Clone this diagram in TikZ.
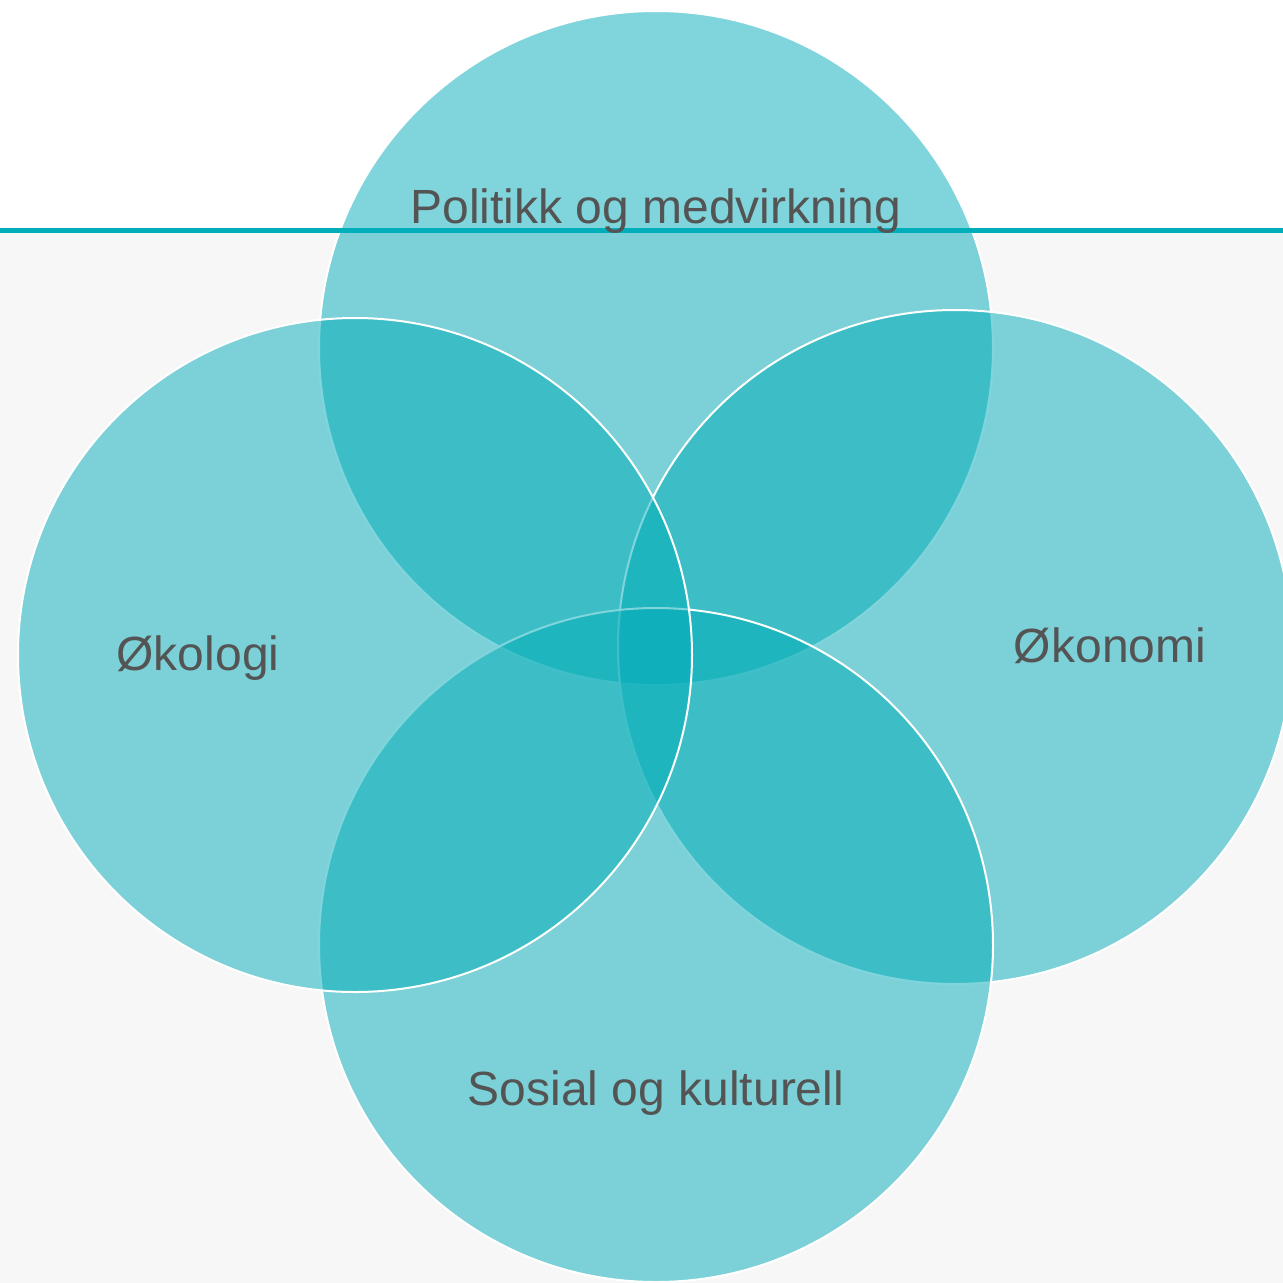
\documentclass[tikz,border=0pt]{standalone}
\usepackage{fontspec}
\setmainfont{Liberation Sans}
\definecolor{teal}{HTML}{01ADB9}
\definecolor{bandline}{HTML}{00AEBA}
\definecolor{bggray}{HTML}{F7F7F7}
\definecolor{txt}{HTML}{545454}
\begin{document}
\begin{tikzpicture}[x=1pt,y=-1pt,
  ring/.style={fill=teal,fill opacity=0.5,draw=white,draw opacity=1,line width=2pt},
  lbl/.style={anchor=base,text=txt,font=\fontsize{48}{56}\selectfont,inner sep=0pt}]
\useasboundingbox (0,0) rectangle (1283,1283);
\fill[white] (0,0) rectangle (1283,230);
\fill[bggray] (0,230) rectangle (1283,1283);
\path[ring] (656,348) circle[radius=337];
\path[ring] (955,647) circle[radius=337];
\path[ring] (656,945) circle[radius=337];
\path[ring] (355,655) circle[radius=337];
\coordinate (la) at (0,230);
\coordinate (lb) at (1283,230);
\draw[bandline,line width=5pt] (la) -- (lb);
\node[lbl] (pol) at (656,223) {Politikk og medvirkning};
\node[lbl] (oko) at (198,670) {Økologi};
\node[lbl] (okn) at (1110,662) {Økonomi};
\node[lbl] (sos) at (656,1105) {Sosial og kulturell};
\end{tikzpicture}
\end{document}
